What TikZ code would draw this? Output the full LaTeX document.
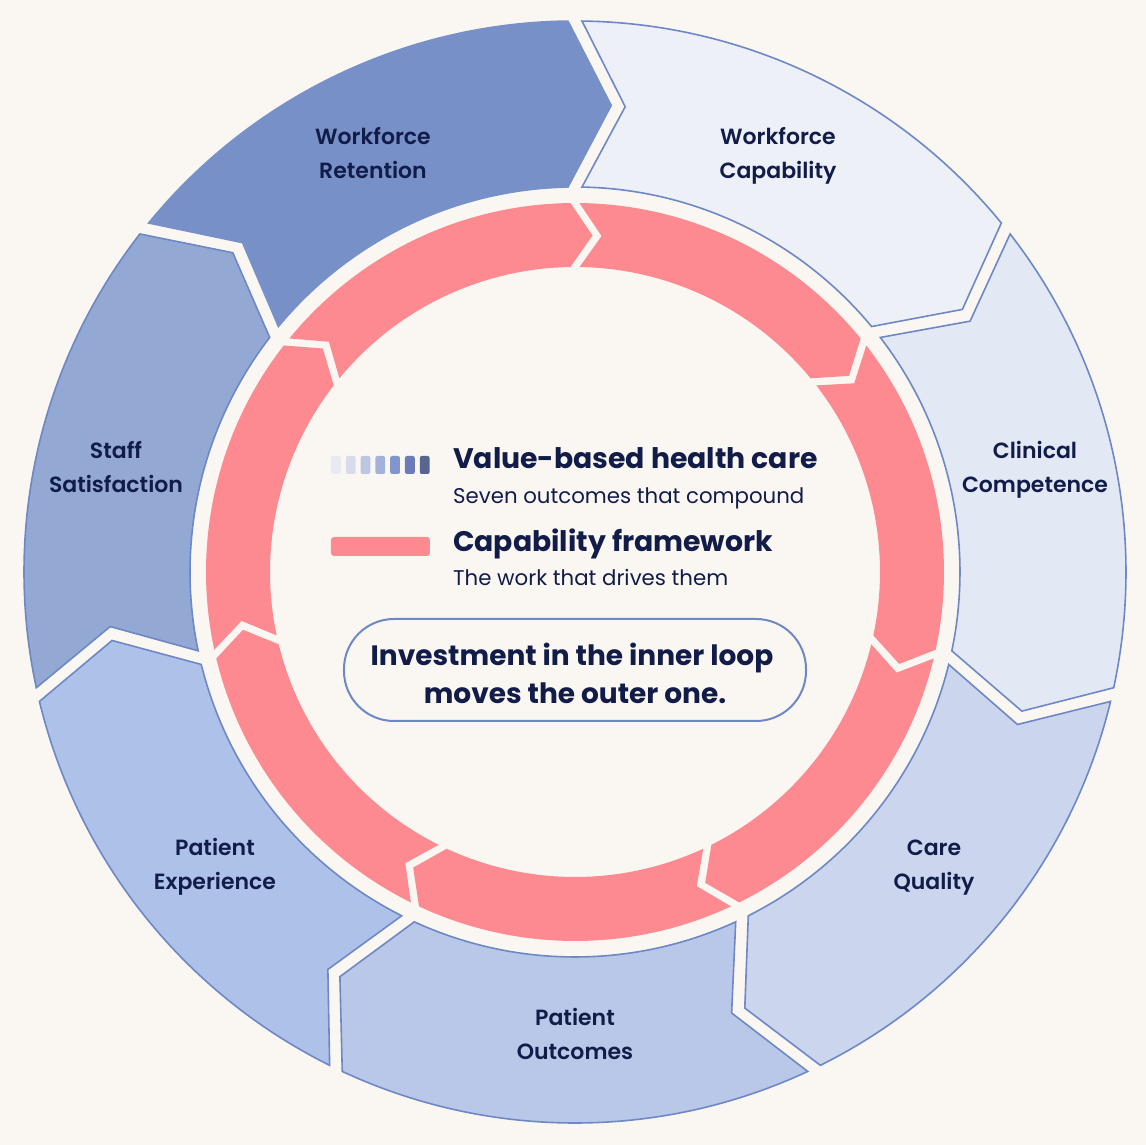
\documentclass[tikz,border=0pt]{standalone}
\usepackage{fontspec}
\setmainfont{Poppins}
\newfontfamily\semifont{Poppins SemiBold}
\newfontfamily\boldfont{Poppins Bold}
\definecolor{bg}{HTML}{FAF7F2}
\definecolor{navy}{HTML}{111C48}
\definecolor{strk}{HTML}{6E88C5}
\definecolor{cRet}{HTML}{7890C8}
\definecolor{cCap}{HTML}{EEF0F7}
\definecolor{cCli}{HTML}{E3E8F5}
\definecolor{cCar}{HTML}{CBD6EE}
\definecolor{cOut}{HTML}{B9C8E8}
\definecolor{cExp}{HTML}{ADC1E9}
\definecolor{cSta}{HTML}{94A8D4}
\definecolor{ringred}{HTML}{FD8A90}
\definecolor{sqa}{HTML}{E9E9F1}
\definecolor{sqb}{HTML}{D7DCEC}
\definecolor{sqc}{HTML}{BBC6E3}
\definecolor{sqd}{HTML}{A2B2DA}
\definecolor{sqe}{HTML}{8196CC}
\definecolor{sqf}{HTML}{6A7CB8}
\definecolor{sqg}{HTML}{58658F}
\tikzset{
  seglabel/.style={font=\semifont\fontsize{22}{34}\selectfont, text=navy, align=center, inner sep=0},
  legtitle/.style={font=\boldfont\fontsize{28.3}{30}\selectfont, text=navy, anchor=base west, inner sep=0},
  legsub/.style={font=\fontsize{21.3}{24}\selectfont, text=navy, anchor=base west, inner sep=0},
  callbox/.style={draw=strk, line width=2, fill=bg, rounded corners=50, minimum width=462, minimum height=102},
  calltext/.style={align=center, text=navy, inner sep=0, font=\boldfont\fontsize{28}{38}\selectfont},
  segfill/.style={line width=1.6, line join=miter}
}
\begin{document}
\begin{tikzpicture}[x=1pt,y=1pt]
\useasboundingbox[fill=bg] (-575,-573) rectangle (571,572);
% outer segments
\foreach \i/\fc/\dc/\la/\lb/\lx/\ly in {0/cRet/cRet/Workforce/Retention/-202/417.5,1/cCap/strk/Workforce/Capability/203/417.5,2/cCli/strk/Clinical/Competence/460/102.8,3/cCar/strk/Care/Quality/359/-293.2,4/cOut/strk/Patient/Outcomes/0/-463.2,5/cExp/strk/Patient/Experience/-360/-293.2,6/cSta/strk/Staff/Satisfaction/-459/102.8}{
  \pgfmathsetmacro\A{141.4286-\i*51.4286}
  \pgfmathsetmacro\B{\A-51.4286}
  \draw[segfill, fill=\fc, draw=\dc]
    ({\A-0.73}:551) arc[start angle=\A-0.73, end angle=\B+0.73, radius=551]
    -- ({\B+0.86-5.3}:468) -- ({\B+1.04}:385)
    arc[start angle=\B+1.04, end angle=\A-1.04, radius=385]
    -- ({\A-0.86-5.3}:468) -- cycle;
  \node[seglabel] (seg\i) at (\lx,\ly) {\strut\la\\\strut\lb};
}
% inner ring
\foreach \i in {0,...,6}{
  \pgfmathsetmacro\A{141.4286-\i*51.4286}
  \pgfmathsetmacro\B{\A-51.4286}
  \fill[ringred]
    ({\A-0.7}:369) arc[start angle=\A-0.7, end angle=\B+0.7, radius=369]
    -- ({\B+0.77-3.75}:337) -- ({\B+0.85}:305)
    arc[start angle=\B+0.85, end angle=\A-0.85, radius=305]
    -- ({\A-0.77-3.75}:337) -- cycle;
}
% legend
\foreach \k/\c in {0/sqa,1/sqb,2/sqc,3/sqd,4/sqe,5/sqf,6/sqg}{
  \fill[\c, rounded corners=2] ({-244+\k*14.8},98) rectangle ++(9.8,18);
}
\fill[ringred, rounded corners=3] (-244,16) rectangle (-145,35);
\node[legtitle] (t1) at (-122,103) {Value-based health care};
\node[legsub] (s1) at (-122,68) {Seven outcomes that compound};
\node[legtitle] (t2) at (-122,20) {Capability framework};
\node[legsub] (s2) at (-122,-14) {The work that drives them};
\node[callbox] (call) at (0,-98) {};
\node[calltext] (calltxt) at ([yshift=-3]call.center) {Investment in the inner loop\hspace*{6pt}\\moves the outer one.};
\end{tikzpicture}
\end{document}
